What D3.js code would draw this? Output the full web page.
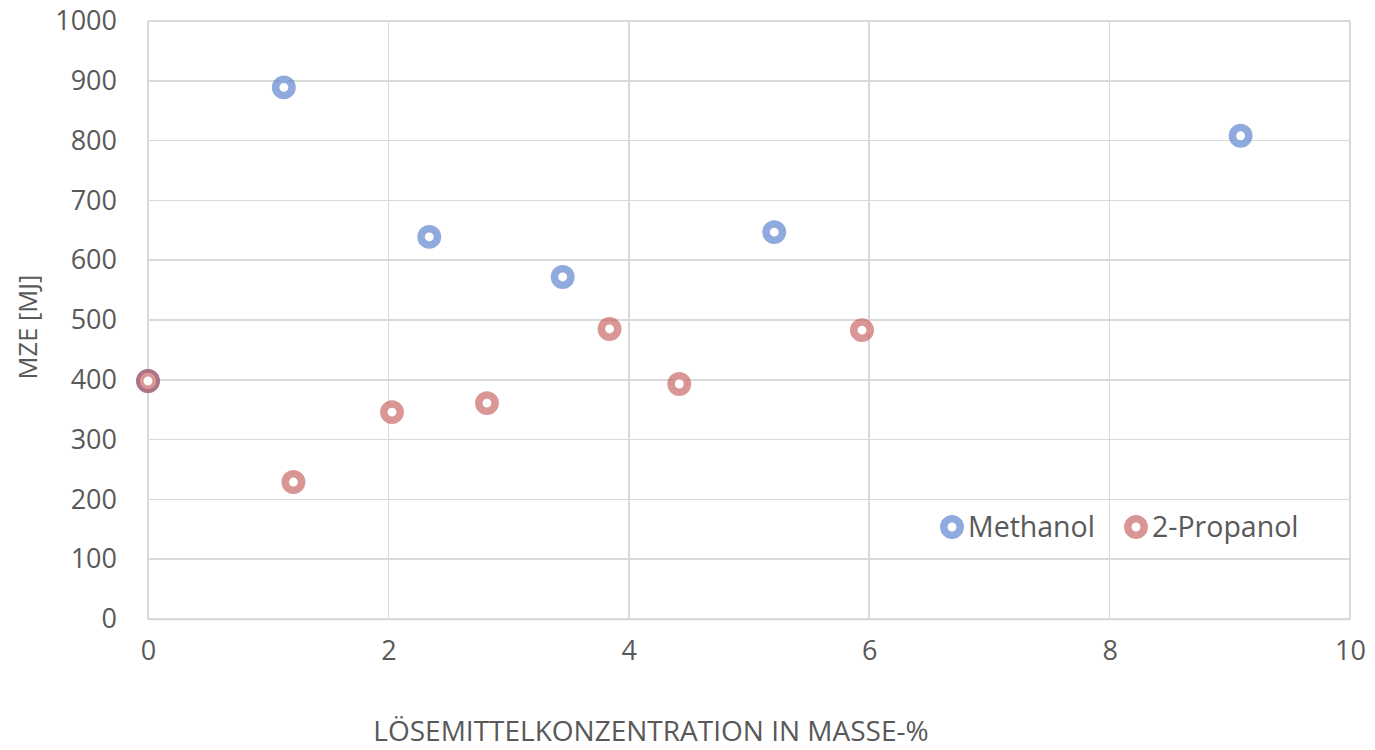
<!DOCTYPE html>
<html><head><meta charset="utf-8">
<script src="https://cdn.jsdelivr.net/npm/d3@7"></script>
<style>body{margin:0;background:#fff;} text{font-family:"Open Sans",sans-serif;fill:#595959;}</style>
</head><body>
<svg id="c" width="1375" height="750"></svg>
<script>
const seriesNames = ["Methanol", "2-Propanol"];
const methanolX = [0, 1.13, 2.34, 3.45, 5.21, 9.09];
const methanolY = [398, 889, 639, 572, 647, 808];
const propanolX = [0, 1.21, 2.03, 2.82, 3.84, 4.42, 5.94];
const propanolY = [398, 229, 346, 361, 485, 393, 483];
const xTicks = [0, 2, 4, 6, 8, 10];
const yTicks = [0, 100, 200, 300, 400, 500, 600, 700, 800, 900, 1000];
const xTitle = "LÖSEMITTELKONZENTRATION IN MASSE-%";
const yTitle = "MZE [MJ]";
const colors = ["#4472C4", "#C0504D"];

const svg = d3.select("#c");
const x = d3.scaleLinear().domain([0, 10]).range([148, 1350]);
const y = d3.scaleLinear().domain([0, 1000]).range([619, 21]);

// grid
svg.append("g").selectAll("line").data(yTicks).join("line")
  .attr("x1", x(0)).attr("x2", x(10)).attr("y1", d => y(d)).attr("y2", d => y(d))
  .attr("stroke", "#d9d9d9").attr("stroke-width", 1.5).attr("shape-rendering","crispEdges");
svg.append("g").selectAll("line").data(xTicks).join("line")
  .attr("y1", y(0)).attr("y2", y(1000)).attr("x1", d => x(d)).attr("x2", d => x(d))
  .attr("stroke", "#d9d9d9").attr("stroke-width", 1.5).attr("shape-rendering","crispEdges");

// axes labels
const yAxis = d3.axisLeft(y).tickValues(yTicks).tickFormat(d3.format("d")).tickSize(0).tickPadding(31);
const gy = svg.append("g").attr("transform", `translate(${x(0)},0)`).call(yAxis);
gy.select(".domain").remove();
gy.selectAll("text").style("font-size", "27px").style("font-family", "Open Sans").attr("fill", "#595959");

const xAxis = d3.axisBottom(x).tickValues(xTicks).tickFormat(d3.format("d")).tickSize(0).tickPadding(22);
const gx = svg.append("g").attr("transform", `translate(0,${y(0)})`).call(xAxis);
gx.select(".domain").attr("stroke", "#d9d9d9").attr("stroke-width", 1.5);
gx.selectAll("text").style("font-size", "27px").style("font-family", "Open Sans").attr("fill", "#595959");

svg.append("text").attr("x", 651).attr("y", 741).attr("text-anchor", "middle")
  .style("font-size", "28px").text(xTitle);
svg.append("text").attr("transform", "translate(37,327) rotate(-90)").attr("text-anchor", "middle")
  .style("font-size", "25.5px").text(yTitle);

function drawSeries(xs, ys, col) {
  svg.append("g").selectAll("circle").data(xs.map((v, i) => [v, ys[i]])).join("circle")
    .attr("cx", d => x(d[0])).attr("cy", d => y(d[1])).attr("r", 8.2)
    .attr("fill", "#fff").attr("stroke", col).attr("stroke-opacity", 0.6).attr("stroke-width", 7.5);
}
drawSeries(methanolX, methanolY, colors[0]);
drawSeries(propanolX, propanolY, colors[1]);

// legend
const legX = [952, 1136];
seriesNames.forEach((n, i) => {
  svg.append("circle").attr("cx", legX[i]).attr("cy", 527).attr("r", 8.2)
    .attr("fill", "#fff").attr("stroke", colors[i]).attr("stroke-opacity", 0.6).attr("stroke-width", 7.5);
  svg.append("text").attr("x", legX[i] + 16).attr("y", 537).style("font-size", "28.5px").text(n);
});
</script>
</body></html>
